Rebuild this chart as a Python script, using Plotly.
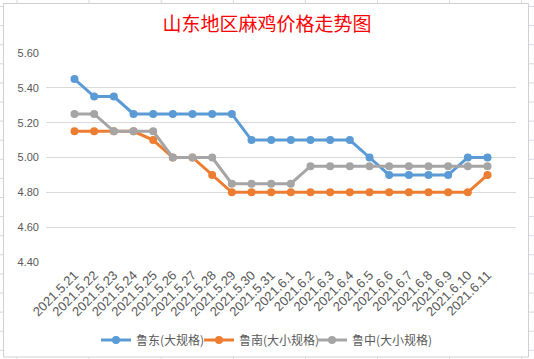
import plotly.graph_objects as go

dates = ["2021.5.21", "2021.5.22", "2021.5.23", "2021.5.24", "2021.5.25", "2021.5.26",
         "2021.5.27", "2021.5.28", "2021.5.29", "2021.5.30", "2021.5.31", "2021.6.1",
         "2021.6.2", "2021.6.3", "2021.6.4", "2021.6.5", "2021.6.6", "2021.6.7",
         "2021.6.8", "2021.6.9", "2021.6.10", "2021.6.11"]

ludong = [5.45, 5.35, 5.35, 5.25, 5.25, 5.25, 5.25, 5.25, 5.25, 5.10, 5.10, 5.10,
          5.10, 5.10, 5.10, 5.00, 4.90, 4.90, 4.90, 4.90, 5.00, 5.00]
lunan = [5.15, 5.15, 5.15, 5.15, 5.10, 5.00, 5.00, 4.90, 4.80, 4.80, 4.80, 4.80,
         4.80, 4.80, 4.80, 4.80, 4.80, 4.80, 4.80, 4.80, 4.80, 4.90]
luzhong = [5.25, 5.25, 5.15, 5.15, 5.15, 5.00, 5.00, 5.00, 4.85, 4.85, 4.85, 4.85,
           4.95, 4.95, 4.95, 4.95, 4.95, 4.95, 4.95, 4.95, 4.95, 4.95]

series_names = ["鲁东(大规格)", "鲁南(大小规格)", "鲁中(大小规格)"]
series_values = [ludong, lunan, luzhong]
colors = ["#5B9BD5", "#ED7D31", "#A5A5A5"]
legend_ids = ["legend", "legend2", "legend3"]
legend_left_px = [96, 199, 312]

y_ticks = [4.40, 4.60, 4.80, 5.00, 5.20, 5.40, 5.60]

W, H = 534, 359
L, R, T, B = 46, 516, 53, 262  # plot area in pixels


def px(x):
    return (x - L) / (R - L)


def py(y):
    return (B - y) / (B - T)


fig = go.Figure()
for name, vals, c, lg in zip(series_names, series_values, colors, legend_ids):
    fig.add_trace(go.Scatter(
        x=dates, y=vals, name=name, mode="lines+markers",
        line=dict(color=c, width=3),
        marker=dict(color=c, size=8),
        cliponaxis=False, legend=lg,
    ))

shapes = []
grid_col = "#D5D9E0"
# spreadsheet background grid (outside the chart object)
cols = [17 + 72.1 * k for k in range(8)]
rows = [6.5 + 19.1 * k for k in range(19)]
for cx in cols:
    shapes.append(dict(type="line", xref="paper", yref="paper", x0=px(cx), x1=px(cx),
                       y0=py(0), y1=py(3), line=dict(color=grid_col, width=1), layer="below"))
    shapes.append(dict(type="line", xref="paper", yref="paper", x0=px(cx), x1=px(cx),
                       y0=py(357), y1=py(359), line=dict(color=grid_col, width=1), layer="below"))
for ry in rows:
    shapes.append(dict(type="line", xref="paper", yref="paper", x0=px(0), x1=px(3),
                       y0=py(ry), y1=py(ry), line=dict(color=grid_col, width=1), layer="below"))
    shapes.append(dict(type="line", xref="paper", yref="paper", x0=px(528), x1=px(534),
                       y0=py(ry), y1=py(ry), line=dict(color=grid_col, width=1), layer="below"))
# chart border
shapes.append(dict(type="rect", xref="paper", yref="paper", x0=px(3.5), x1=px(528.5),
                   y0=py(3.5), y1=py(357), line=dict(color="#D0D0D0", width=1),
                   fillcolor="rgba(0,0,0,0)", layer="below"))

legend_style = dict(font=dict(family="Noto Sans CJK SC", size=12, color="#595959"),
                    itemwidth=30, bgcolor="rgba(0,0,0,0)", xref="container", yref="container",
                    xanchor="left", yanchor="middle", y=1 - 340 / H, orientation="h")
legends = {lg: dict(x=xl / W, **legend_style) for lg, xl in zip(legend_ids, legend_left_px)}

fig.update_layout(
    width=W, height=H,
    margin=dict(l=L, r=W - R, t=T, b=H - B, autoexpand=False),
    paper_bgcolor="white", plot_bgcolor="white",
    font=dict(family="Liberation Sans, Noto Sans CJK SC", size=11, color="#595959"),
    title=dict(text="山东地区麻鸡价格走势图", x=267 / W, xanchor="center", xref="container",
               y=1 - 24 / H, yanchor="middle", yref="container",
               font=dict(family="Noto Sans CJK SC", size=19, color="#FF0000")),
    xaxis=dict(type="category", tickangle=-45, showgrid=False, showline=False,
               ticks="", tickfont=dict(size=13, color="#595959"), zeroline=False,
               automargin=False, ticklabelstandoff=2),
    yaxis=dict(range=[4.40, 5.60], tickvals=y_ticks, ticktext=[f"{v:.2f}" for v in y_ticks],
               showgrid=True, gridcolor="#D9D9D9", gridwidth=1, zeroline=False,
               showline=False, ticks="", ticklabelstandoff=6, automargin=False,
               tickfont=dict(size=11, color="#595959")),
    shapes=shapes,
    showlegend=True,
    **legends,
)

fig.write_html("out.html", config={"displayModeBar": False},
               post_script="document.body.style.margin='0';")
